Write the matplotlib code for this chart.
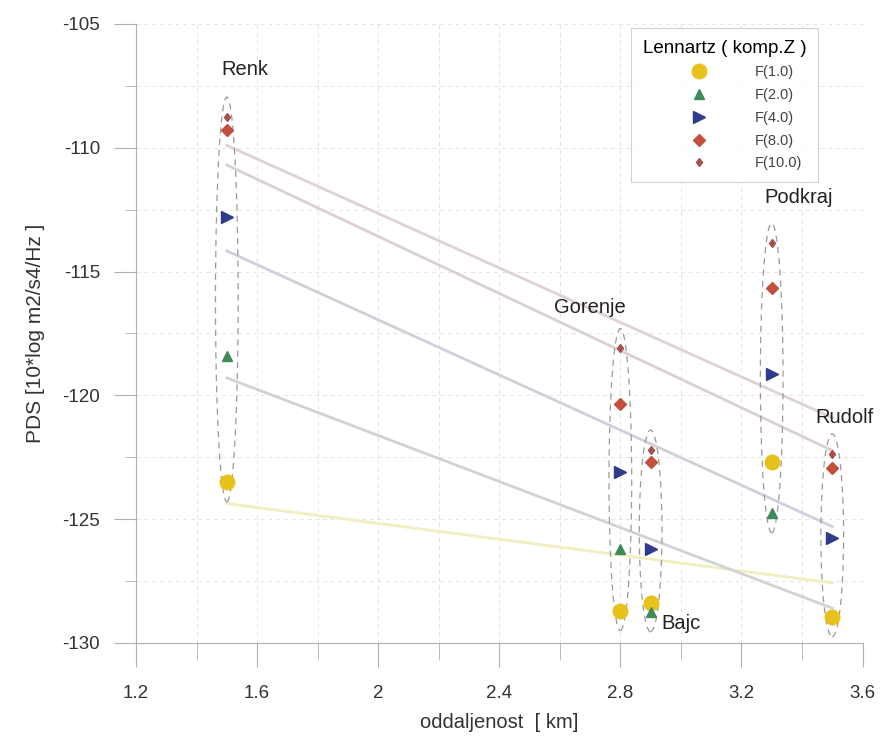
import numpy as np
import matplotlib
matplotlib.use("Agg")
import matplotlib.pyplot as plt
from matplotlib.patches import Ellipse
from matplotlib.ticker import MultipleLocator

plt.rcParams['font.family'] = ['Liberation Sans', 'DejaVu Sans']

# stations and distances [km]
stations = ["Renk", "Gorenje", "Bajc", "Podkraj", "Rudolf"]
distance = [1.5, 2.8, 2.9, 3.3, 3.5]

# PDS values [10*log m2/s4/Hz] per frequency (Rudolf F(2.0) not shown)
f1 = [-123.5, -128.7, -128.4, -122.7, -128.95]
f2 = [-118.4, -126.2, -128.75, -124.75, np.nan]
f4 = [-112.8, -123.1, -126.2, -119.15, -125.75]
f8 = [-109.3, -120.35, -122.7, -115.65, -122.95]
f10 = [-108.75, -118.1, -122.2, -113.85, -122.35]

series = [
    ("F(1.0)", f1, "o", "#e8c21c", 10.5, "#f2eec0"),
    ("F(2.0)", f2, "^", "#3f8a58", 7, "#cfd3d3"),
    ("F(4.0)", f4, ">", "#2f3c8c", 8, "#d0d0dc"),
    ("F(8.0)", f8, "D", "#c2503c", 6.5, "#dccfd2"),
    ("F(10.0)", f10, "d", "#a8504e", 4.5, "#e0d2d4"),
]

# label placement
label_x = [1.56, 2.70, 3.0, 3.39, 3.54]
label_y = [-106.85, -116.45, -129.2, -112.0, -120.9]

fig = plt.figure(figsize=(8.86, 7.36), dpi=100)
ax = fig.add_axes([0.1535, 0.1264, 0.82, 0.841])

x = np.array(distance)

# least squares fit per frequency
for name, vals, m, c, ms, lc in series:
    v = np.array(vals)
    ok = ~np.isnan(v)
    k, n = np.polyfit(x[ok], v[ok], 1)
    xx = np.array([x.min(), x.max()])
    ax.plot(xx, k * xx + n, color=lc, lw=2, zorder=2)

# dashed ellipses around each station group
allv = np.array([f1, f2, f4, f8, f10])
for i, d in enumerate(distance):
    col = allv[:, i]
    top = np.nanmax(col) + 0.8
    bot = np.nanmin(col) - 0.8
    ax.add_patch(Ellipse((d, (top + bot) / 2), 0.075, top - bot, fill=False,
                         ls=(0, (5, 4)), lw=0.9, ec="#9a9a9a", zorder=3))

for name, vals, m, c, ms, lc in series:
    ax.plot(distance, vals, ls="none", marker=m, color=c, ms=ms,
            mec=c, label=name, zorder=5)

for i, s in enumerate(stations):
    ax.text(label_x[i], label_y[i], s, ha="center", va="center",
            fontsize=14.5, color="#222222", zorder=6)

ax.set_xlim(1.2, 3.6)
ax.set_ylim(-130, -105)
ax.xaxis.set_minor_locator(MultipleLocator(0.2))
ax.yaxis.set_minor_locator(MultipleLocator(2.5))
ax.set_xticks([1.2, 1.6, 2.0, 2.4, 2.8, 3.2, 3.6])
ax.set_xticklabels(["1.2", "1.6", "2", "2.4", "2.8", "3.2", "3.6"])
ax.set_yticks([-130, -125, -120, -115, -110, -105])
ax.set_yticklabels(["-130", "-125", "-120", "-115", "-110", "-105"])

ax.grid(True, which="both", color="#e4e4e4", ls=(0, (4, 4)), lw=0.7)
ax.set_axisbelow(True)
for sp in ["top", "right"]:
    ax.spines[sp].set_visible(False)
for sp in ["left", "bottom"]:
    ax.spines[sp].set_color("#b0b0b0")
ax.tick_params(which="both", color="#b0b0b0", labelsize=13.5,
               labelcolor="#333333")
ax.xaxis.set_tick_params(which="major", length=17, pad=13)
ax.xaxis.set_tick_params(which="minor", length=12)
ax.yaxis.set_tick_params(which="major", length=16, pad=10)
ax.yaxis.set_tick_params(which="minor", length=8)

ax.set_xlabel("oddaljenost  [ km]", fontsize=14.5, color="#333333", labelpad=8)
ax.set_ylabel("PDS [10*log m2/s4/Hz ]", fontsize=15, color="#333333", labelpad=12)

leg = ax.legend(title="Lennartz ( komp.Z )", loc="upper right",
                bbox_to_anchor=(0.939, 0.9935), fontsize=10.5, title_fontsize=13.5,
                frameon=True, fancybox=False, edgecolor="#c8c8c8",
                handletextpad=0.3, labelspacing=0.6, borderpad=0.8,
                handlelength=7.0, borderaxespad=0)
leg.get_frame().set_linewidth(0.8)
for t in leg.get_texts():
    t.set_color("#444444")

fig.savefig("out.png", dpi=100)
